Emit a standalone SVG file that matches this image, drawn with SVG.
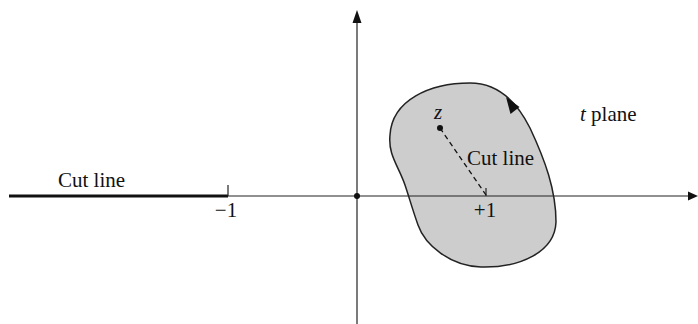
<svg xmlns="http://www.w3.org/2000/svg" width="698" height="324" viewBox="0 0 698 324">
<style>
.ax{stroke:#222;stroke-width:1.2;fill:none}
.lbl{font-family:"Liberation Serif","Times New Roman",serif;font-size:21px;fill:#111}
</style>
<rect width="698" height="324" fill="#fff"/>
<g id="contour">
<path d="M470 83 C495 83 515 98 530 128 C545 160 556 190 556 222 C555 252 520 268 481 267 C450 266 425 245 418 225 C412 208 410 200 405 185 C398 165 388 155 390 135 C392 100 430 83 470 83 Z" fill="#cdcdcd" stroke="#222" stroke-width="1.5"/>
<polygon points="506,97 519.5,107 510.5,114" fill="#111"/>
</g>
<g id="connectors">
<line class="ax" x1="9" y1="196" x2="690" y2="196"/>
<polygon points="698,196 688,191.5 688,200.5" fill="#111"/>
<line class="ax" x1="357" y1="20" x2="357" y2="324"/>
<polygon points="357,10 352.5,23 361.5,23" fill="#111"/>
<line x1="9" y1="196" x2="228" y2="196" stroke="#111" stroke-width="3"/>
<line class="ax" x1="228" y1="185" x2="228" y2="196"/>
<line class="ax" x1="486" y1="188" x2="486" y2="196"/>
<line x1="440" y1="128" x2="486" y2="195" stroke="#111" stroke-width="1.3" stroke-dasharray="5,3.5"/>
</g>
<g id="origin"><circle cx="357" cy="196" r="3" fill="#111"/></g>
<g id="z"><circle cx="440" cy="128" r="3" fill="#111"/>
<text class="lbl" x="438" y="119" font-style="italic" text-anchor="middle">z</text></g>
<g id="labels">
<text class="lbl" x="58" y="187">Cut line</text>
<text class="lbl" x="226" y="217" text-anchor="middle">−1</text>
<text class="lbl" x="485" y="217" text-anchor="middle">+1</text>
<text class="lbl" x="467" y="165">Cut line</text>
<text class="lbl" x="580" y="121"><tspan font-style="italic">t</tspan> plane</text>
</g>
</svg>
